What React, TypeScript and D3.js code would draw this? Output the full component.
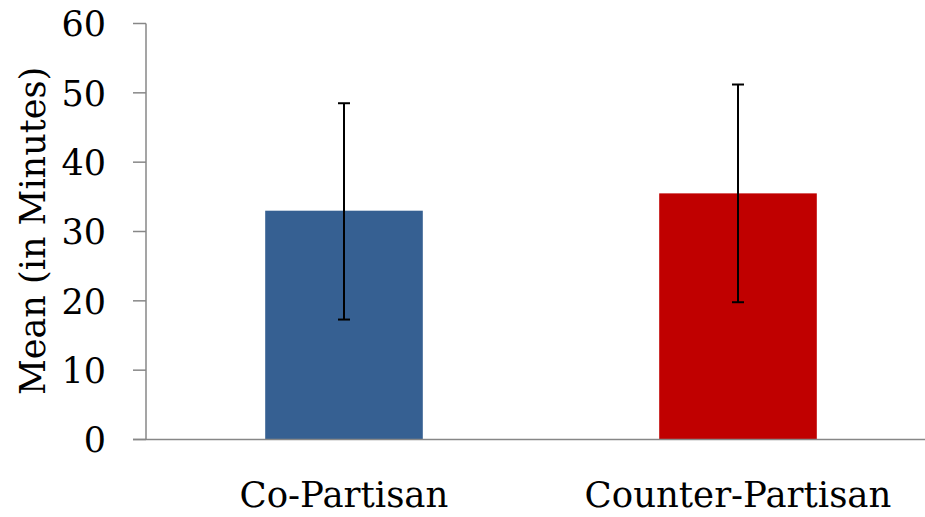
import React from "react";
import * as d3 from "d3";

const categories = ["Co-Partisan", "Counter-Partisan"];
const means = [33.0, 35.5];
const errLow = [17.3, 19.8];
const errHigh = [48.5, 51.2];
const colors = ["#366092", "#C00000"];
const yTicks = [0, 10, 20, 30, 40, 50, 60];
const yLabel = "Mean (in Minutes)";

const W = 925;
const H = 517;
const FONT = "'DejaVu Serif', serif";

export default function App() {
  const x = d3.scaleBand<string>().domain(categories).range([147, 935]).padding(0);
  const y = d3.scaleLinear().domain([0, 60]).range([439.5, 23.5]);
  const barW = x.bandwidth() * 0.4;
  const axisX = 146;

  return (
    <svg width={W} height={H} style={{ position: "absolute", left: 0, top: 0, background: "#fff" }}>
      {categories.map((c, i) => {
        const cx = (x(c) as number) + x.bandwidth() / 2;
        return (
          <g key={c}>
            <rect x={cx - barW / 2} y={y(means[i])} width={barW} height={y(0) - y(means[i])} fill={colors[i]} />
            <line x1={cx} x2={cx} y1={y(errLow[i])} y2={y(errHigh[i])} stroke="#000" strokeWidth={2} />
            <line x1={cx - 6} x2={cx + 6} y1={y(errLow[i])} y2={y(errLow[i])} stroke="#000" strokeWidth={2} />
            <line x1={cx - 6} x2={cx + 6} y1={y(errHigh[i])} y2={y(errHigh[i])} stroke="#000" strokeWidth={2} />
            <text x={cx} y={506.5} textAnchor="middle" fontFamily={FONT} fontSize={35.5} fill="#000">{c}</text>
          </g>
        );
      })}
      <line x1={axisX} x2={axisX} y1={y(60)} y2={y(0)} stroke="#878787" strokeWidth={1.5} />
      <line x1={133} x2={W} y1={y(0)} y2={y(0)} stroke="#878787" strokeWidth={1.5} />
      {yTicks.map((t) => (
        <g key={t}>
          <line x1={133} x2={axisX} y1={y(t)} y2={y(t)} stroke="#878787" strokeWidth={1.5} />
          <text x={106} y={y(t)} dy="0.37em" textAnchor="end" fontFamily={FONT} fontSize={35} fill="#000">{t}</text>
        </g>
      ))}
      <text transform={`translate(45,231) rotate(-90)`} textAnchor="middle" fontFamily={FONT} fontSize={35} fill="#000">{yLabel}</text>
    </svg>
  );
}
